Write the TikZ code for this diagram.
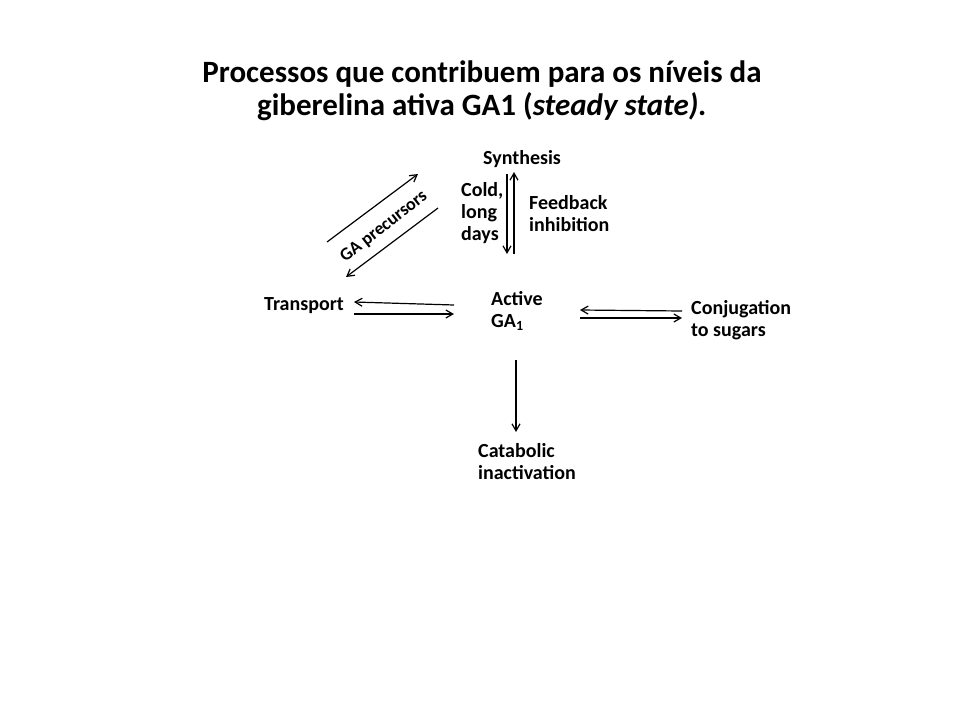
\documentclass[tikz,border=0pt]{standalone}
\usepackage{fontspec}
\setmainfont{Carlito}
\usetikzlibrary{arrows.meta}
\begin{document}
\begin{tikzpicture}[x=1pt,y=-1pt,
  lbl/.style={font=\bfseries\fontsize{20}{22}\selectfont,inner sep=0pt,align=left},
  arr/.style={-{Straight Barb[length=7pt,width=8pt]},line width=1.2pt}]
\useasboundingbox (0,0) rectangle (960,720);
\node[font=\bfseries\fontsize{31}{33}\selectfont,align=center] (title) at (482,91) {Processos que contribuem para os níveis da\\giberelina ativa GA1 (\textit{steady state).}};
\node[lbl,anchor=center] (syn) at (522,159) {Synthesis};
\node[lbl,anchor=west] (cold) at (461,213) {Cold,\\long\\days};
\node[lbl,anchor=west] (fb) at (529,214) {Feedback\\inhibition};
\node[lbl,anchor=west] (tr) at (264,306) {Transport};
\node[lbl,anchor=west] (act) at (491,311) {Active\\GA\textsubscript{1}};
\node[lbl,anchor=west] (conj) at (691,320) {Conjugation\\to sugars};
\node[lbl,anchor=west] (cat) at (478,462) {Catabolic\\inactivation};
\node[lbl,font=\bfseries\fontsize{18}{20}\selectfont,rotate=38] (gap) at (384,227) {GA precursors};
\coordinate (s1) at (507,174); \coordinate (s2) at (507,254);
\coordinate (u1) at (514,254); \coordinate (u2) at (514,172);
\draw[arr] (s1) -- (s2);
\draw[arr] (u1) -- (u2);
\coordinate (g1) at (327,242); \coordinate (g2) at (418,174);
\coordinate (g3) at (438,208); \coordinate (g4) at (346,277);
\draw[arr] (g1) -- (g2);
\draw[arr] (g3) -- (g4);
\coordinate (t1) at (454,305); \coordinate (t2) at (354,302);
\coordinate (t3) at (354,314); \coordinate (t4) at (454,314);
\draw[arr] (t1) -- (t2);
\draw[arr] (t3) -- (t4);
\coordinate (c1) at (682,311); \coordinate (c2) at (580,310);
\coordinate (c3) at (580,318); \coordinate (c4) at (682,318);
\draw[arr] (c1) -- (c2);
\draw[arr] (c3) -- (c4);
\coordinate (d1) at (516,360); \coordinate (d2) at (516,432);
\draw[arr] (d1) -- (d2);
\end{tikzpicture}
\end{document}
